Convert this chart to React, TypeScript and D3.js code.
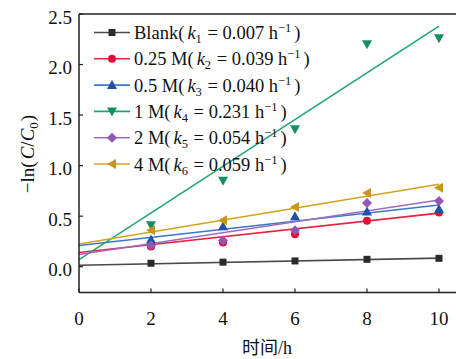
import React from "react";
import * as d3 from "d3";

const times = [2, 4, 6, 8, 10];
const seriesNames = ["Blank", "0.25 M", "0.5 M", "1 M", "2 M", "4 M"];
const kLabels = ["0.007", "0.039", "0.040", "0.231", "0.054", "0.059"];
const blank = [0.034, 0.045, 0.057, 0.073, 0.083];
const m025 = [0.2, 0.24, 0.32, 0.455, 0.535];
const m05 = [0.27, 0.4, 0.5, 0.545, 0.57];
const m1 = [0.41, 0.85, 1.36, 2.2, 2.26];
const m2 = [0.21, 0.26, 0.36, 0.63, 0.65];
const m4 = [0.36, 0.46, 0.59, 0.73, 0.78];
const slopes = [0.007, 0.039, 0.04, 0.231, 0.054, 0.059];
const intercepts = [0.015, 0.14, 0.21, 0.07, 0.12, 0.225];
const yTicks = [0, 0.5, 1.0, 1.5, 2.0, 2.5];
const xTicks = [0, 2, 4, 6, 8, 10];

const values = [blank, m025, m05, m1, m2, m4];
const lineColors = ["#4a4a4a", "#e8213f", "#3a78c8", "#1fa574", "#a06cc0", "#d4a31c"];
const markerColors = ["#2a2a2a", "#e30a3a", "#2150a8", "#14905e", "#9455b5", "#c8961a"];
const shapes = ["square", "circle", "triangle", "triangleDown", "diamond", "triangleLeft"];

const W = 456;
const H = 359;
const L = 79;
const R = 456;
const T = 14;
const B = 292.5;

const FONT = "'Liberation Serif', 'Times New Roman', 'Noto Sans CJK SC', serif";

function Marker({ shape, cx, cy, color }: { shape: string; cx: number; cy: number; color: string }) {
  if (shape === "square") return <rect x={cx - 3.5} y={cy - 3.5} width={7} height={7} fill={color} />;
  if (shape === "circle") return <circle cx={cx} cy={cy} r={4} fill={color} />;
  if (shape === "diamond")
    return <path d={`M${cx},${cy - 5}L${cx + 5},${cy}L${cx},${cy + 5}L${cx - 5},${cy}Z`} fill={color} />;
  if (shape === "triangle")
    return <path d={`M${cx},${cy - 5}L${cx + 5},${cy + 4}L${cx - 5},${cy + 4}Z`} fill={color} />;
  if (shape === "triangleDown")
    return <path d={`M${cx},${cy + 5}L${cx + 5},${cy - 4}L${cx - 5},${cy - 4}Z`} fill={color} />;
  return <path d={`M${cx - 5},${cy}L${cx + 4},${cy - 5}L${cx + 4},${cy + 5}Z`} fill={color} />;
}

export default function App() {
  const x = d3.scaleLinear().domain([0, 10]).range([L, 439]);
  const y = d3.scaleLinear().domain([0, 2.5]).range([266.7, T]);

  const legendY0 = 32.5;
  const legendDy = 26.3;

  return (
    <svg width={W} height={H} style={{ position: "absolute", left: 0, top: 0, background: "#fff" }} fontFamily={FONT}>
      <defs>
        <clipPath id="plot">
          <rect x={L} y={T} width={R - L} height={B - T} />
        </clipPath>
      </defs>
      {/* fit lines */}
      <g clipPath="url(#plot)">
        {values.map((_, i) => {
          const pts: [number, number][] = [0, 10].map((t) => [x(t), y(intercepts[i] + slopes[i] * t)]);
          return (
            <path
              key={"l" + i}
              d={d3.line()(pts) || ""}
              stroke={lineColors[i]}
              strokeWidth={1.6}
              fill="none"
            />
          );
        })}
        {values.map((vals, i) =>
          vals.map((v, j) => (
            <Marker key={`m${i}-${j}`} shape={shapes[i]} cx={x(times[j])} cy={y(v)} color={markerColors[i]} />
          ))
        )}
      </g>
      {/* frame */}
      <line x1={L} x2={R} y1={T} y2={T} stroke="#222" strokeWidth={1.5} />
      <line x1={L} x2={L} y1={T} y2={B} stroke="#222" strokeWidth={1.5} />
      <line x1={L} x2={R} y1={B} y2={B} stroke="#222" strokeWidth={1.5} />
      {/* y ticks */}
      {yTicks.map((t) => (
        <g key={"yt" + t}>
          <line x1={L} x2={L + 4} y1={y(t)} y2={y(t)} stroke="#222" strokeWidth={1.2} />
          <text x={72} y={y(t) + 3} textAnchor="end" dominantBaseline="central" fontSize={19} fill="#111">
            {t.toFixed(1)}
          </text>
        </g>
      ))}
      {/* x ticks */}
      {xTicks.map((t) => (
        <g key={"xt" + t}>
          <line x1={x(t)} x2={x(t)} y1={B} y2={B - 4} stroke="#222" strokeWidth={1.2} />
          <text x={x(t)} y={325} textAnchor="middle" fontSize={19} fill="#111">
            {t}
          </text>
        </g>
      ))}
      {/* axis titles */}
      <text x={267} y={354} textAnchor="middle" fontSize={18} fill="#111">
        时间/h
      </text>
      <text
        transform={`translate(34,154) rotate(-90)`}
        textAnchor="middle"
        fontSize={19}
        fill="#111"
      >
        −ln(<tspan fontStyle="italic" dx={2}>C</tspan>/<tspan fontStyle="italic">C</tspan>
        <tspan fontSize={13} dy={4}>0</tspan>
        <tspan dy={-4} dx={1}>)</tspan>
      </text>
      {/* legend */}
      {seriesNames.map((name, i) => {
        const ly = legendY0 + i * legendDy;
        return (
          <g key={"lg" + i}>
            <line x1={94} x2={130} y1={ly} y2={ly} stroke={lineColors[i]} strokeWidth={1.6} />
            <Marker shape={shapes[i]} cx={112} cy={ly} color={markerColors[i]} />
            <text x={134} y={ly + 6.5} fontSize={18.5} fill="#111">
              {name}(<tspan fontStyle="italic" dx={3}>k</tspan>
              <tspan fontSize={12.5} dy={4}>{i + 1}</tspan>
              <tspan dy={-4} dx={1}> = {kLabels[i]} h</tspan>
              <tspan fontSize={12.5} dy={-7}>−1</tspan>
              <tspan dy={7} dx={3}>)</tspan>
            </text>
          </g>
        );
      })}
    </svg>
  );
}
